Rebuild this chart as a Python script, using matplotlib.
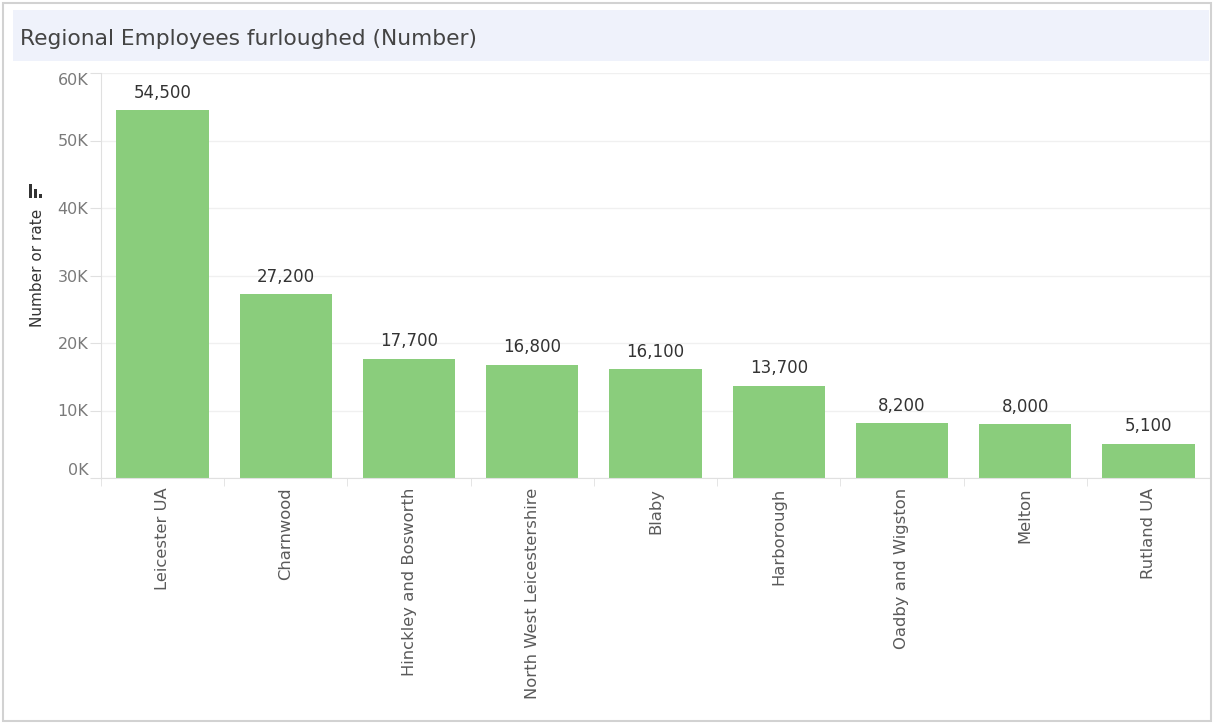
import matplotlib.pyplot as plt
from matplotlib.patches import Rectangle
from matplotlib.ticker import FuncFormatter

# data
regions = ["Leicester UA", "Charnwood", "Hinckley and Bosworth",
           "North West Leicestershire", "Blaby", "Harborough",
           "Oadby and Wigston", "Melton", "Rutland UA"]
furloughed = [54500, 27200, 17700, 16800, 16100, 13700, 8200, 8000, 5100]
yticks = [0, 10000, 20000, 30000, 40000, 50000, 60000]

W, H = 1213, 724
plt.rcParams['font.family'] = ['DejaVu Sans']
fig = plt.figure(figsize=(W / 100, H / 100), dpi=100)


def px(x0, y0, x1, y1):
    # pixel box (top-left origin) -> figure coords
    return (x0 / W, 1 - y1 / H), (x1 - x0) / W, (y1 - y0) / H


# outer frame and title band
xy, w, h = px(3, 3, 1211, 721)
fig.patches.append(Rectangle(xy, w, h, transform=fig.transFigure,
                             fill=False, ec="#d2d2d2", lw=1.5))
xy, w, h = px(13, 10, 1209, 61)
fig.patches.append(Rectangle(xy, w, h, transform=fig.transFigure,
                             fc="#eff2fb", ec="none"))
fig.text(20 / W, 1 - 39 / H, "Regional Employees furloughed (Number)",
         fontsize=15.7, color="#444444", va="center", ha="left")

ax = fig.add_axes([101 / W, 1 - 478 / H, (1210 - 101) / W, (478 - 73) / H])
x = range(len(regions))
bars = ax.bar(x, furloughed, width=0.75, color="#8acd7c", zorder=2)

for b, v in zip(bars, furloughed):
    ax.text(b.get_x() + b.get_width() / 2, v + 1200, f"{v:,}",
            ha="center", va="bottom", fontsize=12, color="#333333")

ax.set_xlim(-0.5, len(regions) - 0.5)
ax.set_ylim(0, 60000)
ax.set_yticks(yticks)
ax.yaxis.set_major_formatter(FuncFormatter(lambda v, p: f"{int(v / 1000)}K"))
ax.grid(axis="y", color="#f0f0f0", lw=1, zorder=0)

ax.set_xticks(list(x))
ax.set_xticklabels(regions, rotation=90, fontsize=11.8, color="#5a5a5a")
ax.set_xticks([i + 0.5 for i in range(-1, len(regions))], minor=True)
ax.tick_params(axis="x", which="major", length=0, pad=7)
ax.tick_params(axis="x", which="minor", length=6, color="#e0e0e0")
ax.tick_params(axis="y", length=8, color="#e0e0e0", labelsize=11.5,
               labelcolor="#7a7a7a", pad=1)

labels = ax.get_yticklabels()
labels[0].set_va("bottom")
labels[-1].set_va("top")

for s in ["top", "right"]:
    ax.spines[s].set_visible(False)
for s in ["left", "bottom"]:
    ax.spines[s].set_color("#e0e0e0")

fig.text(37 / W, 1 - 268 / H, "Number or rate", rotation=90, fontsize=11,
         color="#333333", ha="center", va="center")
# small sort icon above the axis title
for bx, by, bh in [(29, 184, 14), (34, 189, 9), (39, 194, 4)]:
    xy, w, h = px(bx, by, bx + 2.5, by + bh)
    fig.patches.append(Rectangle(xy, w, h, transform=fig.transFigure,
                                 fc="#333333", ec="none"))

fig.savefig("out.png", dpi=100)
